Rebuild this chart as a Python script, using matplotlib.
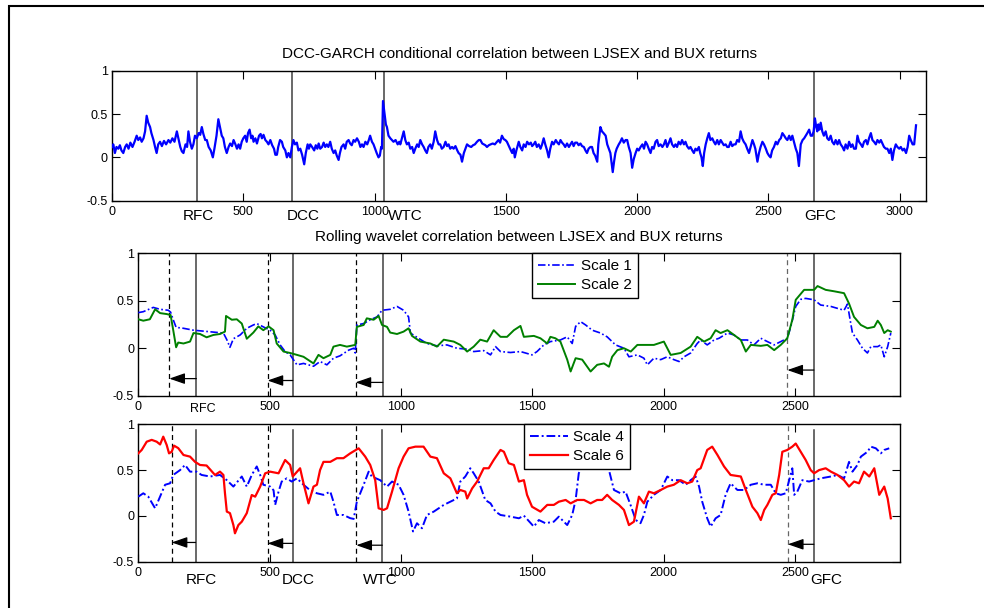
import matplotlib
matplotlib.use("Agg")
import matplotlib.pyplot as plt
from matplotlib.patches import Rectangle
from matplotlib.transforms import blended_transform_factory

plt.rcParams['font.family'] = ['Liberation Sans', 'DejaVu Sans']
plt.rcParams['axes.unicode_minus'] = False

# ---------------- data ----------------
top_x = [0,5,11,17,24,30,36,43,50,56,63,70,78,86,94,100,107,113,120,126,132,138,145,150,158,164,170,176,183,190,198,206,215,222,230,238,247,254,260,266,272,280,286,291,297,304,310,316,323,330,336,342,348,355,361,368,376,384,390,398,405,411,418,424,430,437,444,450,457,463,470,476,482,488,494,500,507,513,518,524,530,535,539,546,552,560,566,571,577,584,590,596,603,610,617,622,628,633,640,647,652,660,666,672,679,685,691,697,704,710,717,724,732,738,745,750,755,762,770,776,782,787,793,800,806,812,818,824,831,837,844,850,856,863,868,874,882,888,894,901,907,913,920,926,933,940,946,952,958,965,972,978,983,990,996,1002,1008,1015,1020,1025,1028,1032,1038,1043,1047,1053,1060,1066,1072,1080,1088,1094,1098,1104,1111,1117,1123,1130,1136,1143,1149,1155,1162,1168,1174,1181,1187,1193,1199,1205,1212,1218,1225,1231,1238,1244,1250,1256,1263,1270,1276,1282,1288,1295,1301,1308,1315,1320,1327,1333,1340,1346,1352,1360,1368,1375,1382,1390,1397,1403,1410,1416,1422,1428,1435,1442,1450,1458,1466,1472,1478,1485,1492,1498,1504,1510,1516,1524,1530,1534,1540,1549,1555,1562,1568,1575,1581,1588,1595,1600,1606,1612,1618,1625,1632,1638,1644,1650,1657,1663,1669,1676,1682,1690,1696,1702,1708,1714,1720,1726,1733,1740,1746,1752,1758,1764,1771,1777,1784,1790,1797,1803,1809,1815,1822,1828,1834,1840,1848,1852,1856,1860,1866,1872,1880,1886,1892,1898,1902,1907,1912,1917,1922,1930,1936,1942,1949,1956,1962,1968,1975,1981,1987,1994,2000,2006,2013,2020,2026,2032,2038,2044,2051,2057,2063,2070,2076,2082,2089,2096,2102,2108,2114,2121,2127,2133,2140,2146,2152,2158,2165,2171,2178,2184,2190,2197,2203,2210,2216,2222,2228,2235,2240,2245,2250,2255,2261,2267,2273,2279,2286,2292,2298,2305,2311,2318,2324,2330,2337,2343,2349,2356,2362,2369,2375,2381,2388,2394,2400,2406,2413,2419,2426,2432,2439,2445,2450,2458,2464,2470,2477,2483,2490,2496,2502,2508,2514,2521,2528,2534,2541,2547,2553,2560,2566,2572,2579,2585,2591,2597,2604,2610,2616,2620,2623,2630,2636,2642,2648,2655,2661,2667,2672,2677,2682,2686,2690,2694,2699,2705,2711,2718,2724,2730,2737,2743,2750,2756,2763,2769,2775,2782,2788,2794,2801,2807,2814,2820,2826,2833,2839,2845,2852,2858,2864,2871,2877,2883,2890,2896,2902,2909,2915,2922,2928,2934,2940,2947,2953,2960,2966,2972,2978,2985,2991,2998,3004,3011,3017,3024,3030,3036,3042,3049,3055,3058,3062]
top_y = [0.12,0.15,0.05,0.12,0.10,0.14,0.08,0.05,0.12,0.15,0.10,0.17,0.12,0.18,0.25,0.20,0.23,0.18,0.22,0.30,0.48,0.40,0.35,0.28,0.20,0.12,0.05,0.15,0.18,0.13,0.19,0.15,0.20,0.17,0.22,0.18,0.30,0.20,0.12,0.07,0.05,0.15,0.12,0.30,0.18,0.10,0.15,0.25,0.22,0.28,0.26,0.35,0.27,0.20,0.20,0.12,0.08,0.00,0.10,0.25,0.44,0.35,0.25,0.22,0.12,0.05,0.12,0.16,0.13,0.20,0.15,0.10,0.15,0.10,0.18,0.22,0.25,0.18,0.28,0.32,0.22,0.25,0.18,0.22,0.16,0.25,0.27,0.22,0.26,0.20,0.18,0.15,0.20,0.14,0.10,0.03,0.03,0.12,0.20,0.18,0.12,0.08,0.00,0.05,0.00,0.12,0.20,0.15,0.17,0.08,0.10,0.03,-0.08,0.05,0.15,0.10,0.15,0.12,0.08,0.14,0.10,0.16,0.10,0.12,0.17,0.12,0.15,0.12,0.18,0.10,0.05,0.08,0.02,-0.03,0.05,0.12,0.15,0.10,0.18,0.20,0.16,0.14,0.20,0.18,0.22,0.18,0.12,0.15,0.12,0.18,0.15,0.20,0.25,0.18,0.15,0.10,0.05,0.00,0.02,0.12,0.10,0.65,0.50,0.38,0.35,0.25,0.22,0.20,0.18,0.20,0.15,0.18,0.15,0.22,0.30,0.20,0.15,0.17,0.10,0.12,0.05,0.10,0.15,0.12,0.20,0.15,0.12,0.08,0.05,0.12,0.15,0.10,0.18,0.30,0.20,0.15,0.15,0.10,0.12,0.18,0.13,0.15,0.10,0.12,0.10,0.13,0.08,0.05,0.03,-0.05,0.05,0.10,0.15,0.13,0.12,0.14,0.15,0.18,0.20,0.20,0.16,0.15,0.14,0.12,0.14,0.15,0.16,0.15,0.18,0.20,0.17,0.25,0.21,0.20,0.18,0.14,0.10,0.05,0.10,0.00,0.08,0.18,0.12,0.08,0.15,0.12,0.18,0.15,0.17,0.13,0.15,0.18,0.12,0.15,0.10,0.15,0.22,0.15,0.08,0.00,0.10,0.18,0.15,0.20,0.17,0.15,0.20,0.17,0.15,0.12,0.16,0.12,0.15,0.18,0.13,0.17,0.17,0.14,0.16,0.13,0.12,0.08,0.05,0.10,0.12,0.12,0.05,0.02,-0.05,0.15,0.25,0.35,0.30,0.28,0.25,0.15,0.10,0.05,-0.05,-0.17,-0.05,0.05,0.10,0.15,0.18,0.22,0.17,0.20,0.20,0.12,0.05,-0.12,-0.02,0.05,0.10,0.08,0.12,0.15,0.10,0.18,0.15,0.10,0.05,0.12,0.10,0.18,0.20,0.13,0.15,0.12,0.15,0.20,0.12,0.17,0.22,0.15,0.12,0.15,0.12,0.18,0.15,0.20,0.15,0.18,0.13,0.10,0.12,0.08,0.05,0.10,0.08,0.12,0.05,0.00,-0.10,0.05,0.15,0.22,0.28,0.20,0.22,0.18,0.15,0.20,0.15,0.20,0.17,0.14,0.15,0.12,0.12,0.18,0.13,0.15,0.15,0.20,0.18,0.30,0.22,0.18,0.15,0.10,0.05,0.12,0.20,0.15,0.10,-0.05,0.05,0.12,0.18,0.15,0.10,0.05,0.02,0.00,0.08,0.12,0.18,0.15,0.20,0.22,0.28,0.25,0.22,0.20,0.25,0.20,0.25,0.18,0.10,0.05,-0.10,0.05,0.15,0.20,0.22,0.25,0.28,0.32,0.25,0.25,0.30,0.45,0.35,0.30,0.38,0.32,0.40,0.30,0.25,0.30,0.22,0.20,0.25,0.18,0.15,0.20,0.15,0.20,0.15,0.12,0.08,0.15,0.10,0.18,0.12,0.15,0.10,0.10,0.25,0.18,0.15,0.12,0.18,0.20,0.15,0.22,0.28,0.20,0.18,0.15,0.20,0.17,0.20,0.16,0.12,0.10,0.10,0.05,0.10,-0.03,0.08,0.15,0.12,0.10,0.12,0.08,0.10,0.05,0.12,0.25,0.20,0.15,0.15,0.25,0.37]

s1_x = [0,19,57,83,114,123,133,144,172,210,248,286,324,337,349,362,388,413,438,451,476,502,521,540,559,578,604,629,667,692,718,743,768,801,820,826,832,858,883,909,928,959,985,1010,1029,1036,1061,1099,1137,1175,1213,1252,1277,1315,1341,1360,1379,1417,1455,1499,1518,1544,1569,1607,1633,1652,1665,1684,1703,1728,1760,1785,1817,1849,1868,1900,1925,1938,1963,1989,2014,2039,2059,2078,2103,2128,2141,2166,2192,2211,2243,2268,2294,2319,2344,2370,2395,2421,2446,2471,2484,2503,2522,2541,2573,2598,2637,2662,2687,2700,2710,2719,2738,2757,2776,2789,2815,2827,2840,2853,2865]
s1_y = [0.375,0.385,0.43,0.41,0.40,0.38,0.30,0.22,0.21,0.19,0.18,0.17,0.16,0.09,0.01,0.10,0.14,0.21,0.245,0.26,0.225,0.19,0.14,0.035,-0.035,-0.07,-0.175,-0.16,-0.19,-0.14,-0.175,-0.105,-0.08,-0.02,0.0,-0.05,0.245,0.26,0.30,0.33,0.40,0.41,0.44,0.40,0.33,0.16,0.115,0.05,0.025,0.035,0.0,-0.01,-0.035,-0.025,-0.07,0.017,-0.035,-0.045,-0.035,-0.07,-0.035,0.035,0.07,0.087,0.12,0.05,0.23,0.28,0.245,0.19,0.16,0.12,0.035,0.0,-0.09,-0.07,-0.105,-0.175,-0.105,-0.12,-0.09,-0.12,-0.14,-0.09,-0.05,0.05,0.087,0.035,0.087,0.105,0.16,0.14,0.087,0.087,0.035,0.105,0.07,0.035,0.07,0.105,0.225,0.44,0.515,0.525,0.51,0.455,0.44,0.42,0.40,0.465,0.30,0.16,0.087,0.0,-0.05,0.017,0.017,0.035,-0.09,0.017,0.16]

s2_x = [0,19,44,64,83,108,123,133,144,152,172,197,210,235,260,286,311,330,334,356,375,394,413,438,457,476,496,515,527,553,578,604,629,667,686,705,731,743,768,794,826,832,858,870,896,915,928,947,959,985,1010,1029,1042,1074,1112,1137,1163,1201,1226,1252,1277,1302,1328,1353,1379,1404,1430,1455,1468,1506,1531,1557,1569,1588,1607,1633,1646,1665,1690,1722,1747,1773,1792,1804,1824,1849,1875,1900,1938,1963,2001,2027,2065,2103,2128,2154,2179,2198,2217,2243,2268,2294,2313,2332,2370,2395,2421,2446,2471,2490,2503,2535,2573,2586,2617,2649,2687,2706,2725,2751,2776,2802,2815,2827,2840,2853,2865]
s2_y = [0.305,0.29,0.305,0.41,0.37,0.36,0.35,0.19,0.01,0.06,0.05,0.07,0.16,0.15,0.115,0.14,0.15,0.175,0.34,0.30,0.305,0.26,0.10,0.165,0.23,0.19,0.23,0.19,0.05,-0.035,-0.05,-0.07,-0.09,-0.16,-0.07,-0.105,-0.07,0.017,0.035,0.017,0.035,0.225,0.245,0.315,0.30,0.34,0.245,0.225,0.165,0.15,0.175,0.21,0.13,0.07,0.05,0.017,0.09,0.07,0.035,-0.035,0.017,0.09,0.07,0.19,0.12,0.12,0.19,0.235,0.12,0.13,0.105,0.05,0.12,0.105,0.07,-0.12,-0.245,-0.105,-0.12,-0.245,-0.175,-0.16,-0.195,-0.09,-0.02,0.0,-0.035,0.035,0.035,0.035,0.07,-0.07,-0.05,0.017,0.12,0.07,0.105,0.19,0.16,0.19,0.14,0.087,-0.035,0.035,0.025,0.035,-0.02,0.035,0.105,0.30,0.51,0.615,0.615,0.655,0.615,0.60,0.58,0.47,0.33,0.245,0.21,0.225,0.29,0.245,0.16,0.19,0.175]

s4_x = [0,19,38,64,83,102,121,133,159,178,197,222,241,273,311,337,362,394,413,432,451,464,476,502,515,521,534,546,565,584,604,629,654,680,705,731,743,756,781,807,820,832,858,877,889,921,947,966,991,1010,1029,1046,1061,1080,1099,1125,1163,1188,1213,1226,1245,1264,1277,1296,1321,1341,1360,1379,1417,1449,1468,1506,1525,1550,1582,1601,1633,1652,1665,1677,1690,1734,1785,1792,1811,1836,1855,1874,1894,1912,1925,1938,1963,1989,2014,2033,2059,2084,2103,2122,2135,2147,2166,2179,2198,2217,2236,2255,2281,2306,2332,2357,2383,2408,2427,2446,2465,2478,2490,2497,2509,2528,2554,2598,2637,2662,2687,2706,2719,2738,2751,2776,2789,2808,2827,2840,2859]
s4_y = [0.21,0.247,0.21,0.083,0.21,0.34,0.356,0.447,0.50,0.556,0.483,0.483,0.447,0.43,0.447,0.39,0.32,0.43,0.32,0.447,0.54,0.447,0.34,0.32,0.28,0.12,0.265,0.375,0.41,0.375,0.41,0.34,0.28,0.247,0.23,0.265,0.155,0.01,0.01,-0.025,-0.033,0.155,0.34,0.483,0.43,0.39,0.32,0.375,0.34,0.23,0.047,-0.17,-0.08,-0.135,0.01,0.047,0.12,0.155,0.19,0.375,0.43,0.52,0.465,0.375,0.174,0.137,0.047,0.01,-0.008,-0.026,0.003,-0.117,-0.045,-0.08,-0.063,-0.008,-0.1,0.01,0.174,0.465,0.55,0.6,0.55,0.50,0.283,0.247,0.265,0.12,-0.045,-0.08,0.01,0.155,0.23,0.283,0.43,0.39,0.39,0.34,0.39,0.43,0.32,0.155,-0.026,-0.117,-0.026,0.01,0.23,0.356,0.283,0.283,0.34,0.356,0.34,0.34,0.247,0.23,0.247,0.39,0.52,0.23,0.265,0.39,0.375,0.41,0.43,0.447,0.41,0.59,0.483,0.556,0.647,0.70,0.756,0.738,0.683,0.72,0.738]

s6_x = [0,13,32,51,70,83,95,108,117,127,136,152,172,197,216,235,260,292,311,324,330,337,349,362,368,381,394,413,432,445,464,483,502,534,559,578,588,616,629,648,667,680,692,705,731,756,781,807,839,864,883,902,915,934,947,966,991,1010,1029,1055,1086,1112,1137,1163,1188,1213,1226,1245,1252,1271,1290,1315,1334,1353,1379,1392,1410,1430,1449,1468,1480,1499,1531,1557,1582,1601,1627,1646,1671,1697,1722,1747,1766,1785,1804,1830,1849,1868,1887,1906,1925,1944,1963,1989,2014,2039,2065,2090,2109,2128,2141,2166,2185,2205,2230,2255,2294,2313,2338,2357,2370,2383,2395,2414,2427,2440,2452,2471,2490,2503,2522,2541,2560,2573,2592,2617,2637,2662,2687,2706,2725,2744,2763,2783,2802,2821,2840,2853,2865]
s6_y = [0.683,0.72,0.81,0.83,0.81,0.78,0.865,0.775,0.683,0.70,0.767,0.74,0.665,0.647,0.59,0.556,0.55,0.447,0.483,0.447,0.247,0.047,0.03,-0.1,-0.19,-0.1,-0.063,0.03,0.228,0.21,0.32,0.465,0.483,0.465,0.61,0.556,0.43,0.52,0.356,0.137,0.32,0.34,0.50,0.59,0.59,0.63,0.63,0.683,0.738,0.647,0.556,0.39,0.083,0.065,0.083,0.265,0.52,0.647,0.738,0.756,0.756,0.647,0.63,0.465,0.41,0.247,0.283,0.265,0.19,0.30,0.375,0.52,0.52,0.61,0.72,0.70,0.575,0.556,0.375,0.39,0.23,0.10,0.047,0.12,0.12,0.155,0.174,0.137,0.174,0.174,0.137,0.174,0.174,0.23,0.174,0.12,0.065,-0.1,-0.063,0.21,0.137,0.265,0.247,0.283,0.32,0.34,0.39,0.356,0.375,0.50,0.52,0.72,0.756,0.665,0.54,0.447,0.43,0.283,0.10,0.03,-0.045,0.065,0.12,0.23,0.247,0.447,0.70,0.72,0.756,0.79,0.70,0.61,0.50,0.465,0.50,0.52,0.483,0.447,0.39,0.32,0.375,0.356,0.483,0.43,0.52,0.23,0.32,0.19,-0.026]

top_title = "DCC-GARCH conditional correlation between LJSEX and BUX returns"
mid_title = "Rolling wavelet correlation between LJSEX and BUX returns"

top_events = [323, 687, 1034, 2675]
top_labels = ["RFC", "DCC", "WTC", "GFC"]
top_label_x = [328, 730, 1118, 2697]

mid_solid = [221, 588, 931, 2572]
mid_dashed = [118, 492, 827, 2471]
mid_arrow_y = [-0.32, -0.34, -0.36, -0.23]
mid_labels = ["RFC"]
mid_label_x = [246]

bot_solid = [218, 588, 929, 2572]
bot_dashed = [127, 492, 830, 2473]
bot_arrow_y = [-0.29, -0.30, -0.32, -0.31]
bot_labels = ["RFC", "DCC", "WTC", "GFC"]
bot_label_x = [242, 610, 920, 2621]

dashed_colors = ['black', 'black', 'black', '#666666']

yticks = [-0.5, 0, 0.5, 1]
ytick_labels = ["-0.5", "0", "0.5", "1"]

# ---------------- figure ----------------
W, H = 984, 608
fig = plt.figure(figsize=(W / 100, H / 100), dpi=100)
fig.patch.set_facecolor('white')

def px_axes(l, t, r, b):
    return fig.add_axes([l / W, 1 - b / H, (r - l) / W, (b - t) / H])

ax1 = px_axes(112, 70.7, 926, 200.7)
ax2 = px_axes(138.3, 253.3, 900, 395.7)
ax3 = px_axes(138.3, 424.3, 900, 561.7)

def style(ax, xmax, xticks):
    ax.set_xlim(0, xmax)
    ax.set_ylim(-0.5, 1)
    ax.set_yticks(yticks)
    ax.set_yticklabels(ytick_labels)
    ax.set_xticks(xticks)
    ax.set_xticklabels([str(t) for t in xticks])
    ax.tick_params(direction='in', top=True, right=True, length=5.5, width=0.8,
                   labelsize=9, colors='black')
    ax.tick_params(axis='x', pad=4)
    ax.tick_params(axis='y', pad=3)
    for sp in ax.spines.values():
        sp.set_linewidth(1.0)
        sp.set_color('black')

style(ax1, 3100, [0, 500, 1000, 1500, 2000, 2500, 3000])
style(ax2, 2900, [0, 500, 1000, 1500, 2000, 2500])
style(ax3, 2900, [0, 500, 1000, 1500, 2000, 2500])

arrow_style = '-|>,head_length=0.95,head_width=0.33'

# top panel
ax1.plot(top_x, top_y, color='#0000FF', lw=1.6, zorder=3)
for xv in top_events:
    ax1.axvline(xv, color='#404040', lw=1.1, zorder=2)
tr1 = blended_transform_factory(ax1.transData, ax1.transAxes)
for lab, xv in zip(top_labels, top_label_x):
    ax1.text(xv, -0.148, lab, transform=tr1, ha='center', va='baseline', fontsize=11)
ax1.set_title(top_title, fontsize=11, pad=9)

# middle panel
l1, = ax2.plot(s1_x, s1_y, color='#0000FF', lw=1.2, dashes=(4.5, 1.5, 1, 1.5), zorder=3)
l2, = ax2.plot(s2_x, s2_y, color='#008000', lw=1.4, zorder=4)
for xv in mid_solid:
    ax2.axvline(xv, color='#404040', lw=1.1, zorder=2)
for xv, c in zip(mid_dashed, dashed_colors):
    ax2.axvline(xv, color=c, lw=0.9, dashes=(4, 3), zorder=2)
for xs, xd, yv in zip(mid_solid, mid_dashed, mid_arrow_y):
    ax2.annotate('', xy=(xd, yv), xytext=(xs, yv),
                 arrowprops=dict(arrowstyle=arrow_style,
                                 color='black', lw=0.9, shrinkA=0, shrinkB=0))
tr2 = blended_transform_factory(ax2.transData, ax2.transAxes)
for lab, xv in zip(mid_labels, mid_label_x):
    ax2.text(xv, -0.112, lab, transform=tr2, ha='center', va='baseline', fontsize=9)
ax2.set_title(mid_title, fontsize=11, pad=9)
leg_kw = dict(loc='upper left', borderaxespad=0, fontsize=11, fancybox=False,
              framealpha=1, edgecolor='black', handlelength=2.45, handletextpad=0.35,
              labelspacing=0.3, borderpad=0.4)
leg2 = ax2.legend([l1, l2], ["Scale 1", "Scale 2"],
                  bbox_to_anchor=((531.7 - 138.3) / 761.7, 1.0), **leg_kw)
leg2.get_frame().set_linewidth(1.0)

# bottom panel
l4, = ax3.plot(s4_x, s4_y, color='#0000FF', lw=1.4, dashes=(4.5, 1.5, 1, 1.5), zorder=3)
l6, = ax3.plot(s6_x, s6_y, color='#FF0000', lw=1.6, zorder=4)
for xv in bot_solid:
    ax3.axvline(xv, ymax=0.96, color='#404040', lw=1.1, zorder=2)
for xv, c in zip(bot_dashed, dashed_colors):
    ax3.axvline(xv, color=c, lw=0.9, dashes=(4, 3), zorder=2)
for xs, xd, yv in zip(bot_solid, bot_dashed, bot_arrow_y):
    ax3.annotate('', xy=(xd, yv), xytext=(xs, yv),
                 arrowprops=dict(arrowstyle=arrow_style,
                                 color='black', lw=0.9, shrinkA=0, shrinkB=0))
tr3 = blended_transform_factory(ax3.transData, ax3.transAxes)
for lab, xv in zip(bot_labels, bot_label_x):
    ax3.text(xv, -0.1645, lab, transform=tr3, ha='center', va='baseline', fontsize=11)
leg3 = ax3.legend([l4, l6], ["Scale 4", "Scale 6"],
                  bbox_to_anchor=((524 - 138.3) / 761.7, 1.0), **leg_kw)
leg3.get_frame().set_linewidth(1.0)

# outer frame (top and left sides visible)
fig.add_artist(Rectangle((8.5 / W, -0.5), 1.5, 0.5 + (1 - 5.7 / H),
                         transform=fig.transFigure, fill=False, lw=1.5,
                         edgecolor='black', clip_on=False))

fig.savefig("out.png", dpi=100, facecolor='white')
